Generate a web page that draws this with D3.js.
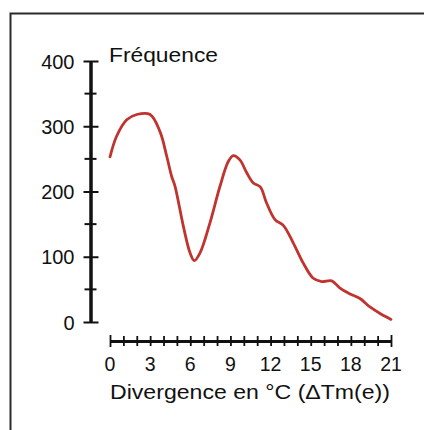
<!DOCTYPE html>
<html>
<head>
<meta charset="utf-8">
<script src="https://cdn.jsdelivr.net/npm/d3@7"></script>
<style>
  body { margin: 0; background: #fff; }
  text { font-family: "Liberation Sans", Arial, sans-serif; fill: #111; }
</style>
</head>
<body>
<svg width="424" height="430"></svg>
<script>
// divergence (°C) and frequency
const divergence = [0, 0.5, 1.25, 2, 3, 3.75, 4.24, 4.61, 4.86, 5.48, 5.98, 6.3, 6.73, 7.47, 8.22, 8.84, 9.22, 9.72,
  10.21, 10.71, 11.23, 11.71, 12.33, 12.95, 13.7, 14.45, 15.19, 15.82, 16.57, 17.19, 17.94, 18.68, 19.43, 20.18, 21];
const frequence = [253, 285, 310, 318, 318, 291, 254, 223, 208, 147, 106, 94, 106, 152, 208, 246, 255, 248,
  229, 213, 207, 182, 157, 148, 121, 90, 67, 62, 63, 52, 43, 36, 23, 13, 4];

const yMajor = [0, 100, 200, 300, 400];
const yMinor = [50, 150, 250, 350];
const xTicks = d3.range(0, 22);
const xLabels = [0, 3, 6, 9, 12, 15, 18, 21];

const svg = d3.select("svg");
const width = +svg.attr("width");

// frame (left and top edges only)
svg.append("path")
  .attr("d", `M10.5,430 L10.5,13.5 L${width},13.5`)
  .attr("fill", "none")
  .attr("stroke", "#2a2a2a")
  .attr("stroke-width", 2);

const x = d3.scaleLinear().domain([0, 21]).range([110, 391]);
const y = d3.scaleLinear().domain([0, 400]).range([322, 61]);

// y axis
const gy = svg.append("g").attr("transform", "translate(90.5,0)");
gy.call(d3.axisLeft(y).tickValues(yMajor).tickSize(0).tickPadding(16));
gy.select(".domain").attr("stroke", "#111").attr("stroke-width", 3.5);
gy.selectAll(".tick text")
  .attr("dy", "0.36em")
  .style("font-size", "20px")
  .style("font-family", "'Liberation Sans', Arial, sans-serif")
  .style("fill", "#111");
gy.selectAll(".tick line").attr("x1", -7).attr("x2", 8).attr("stroke", "#111").attr("stroke-width", 2);

svg.append("g").selectAll("line")
  .data(yMinor)
  .enter()
  .append("line")
    .attr("x1", 84.5).attr("x2", 96.5)
    .attr("y1", (d) => y(d)).attr("y2", (d) => y(d))
    .attr("stroke", "#111").attr("stroke-width", 2);

// x axis
const gx = svg.append("g").attr("transform", "translate(0,341)");
gx.call(d3.axisBottom(x).tickValues(xTicks).tickSize(0).tickFormat(""));
gx.select(".domain").attr("stroke", "#111").attr("stroke-width", 3);
gx.selectAll(".tick line")
  .attr("y1", (d) => (d === 0 || d === 21) ? -6 : -5)
  .attr("y2", (d) => (d === 0 || d === 21) ? 6 : 5)
  .attr("stroke", "#111").attr("stroke-width", 1.8);

svg.append("g").selectAll("text")
  .data(xLabels)
  .enter()
  .append("text")
    .attr("x", (d) => x(d))
    .attr("y", 370.5)
    .attr("text-anchor", "middle")
    .style("font-size", "19.5px")
    .text((d) => d);

// titles
svg.append("text")
  .attr("x", 109).attr("y", 62)
  .style("font-size", "19.5px")
  .attr("textLength", 109)
  .attr("lengthAdjust", "spacingAndGlyphs")
  .text("Fréquence");

svg.append("text")
  .attr("x", 110).attr("y", 398.5)
  .style("font-size", "20.5px")
  .attr("textLength", 280)
  .attr("lengthAdjust", "spacingAndGlyphs")
  .text("Divergence en °C (ΔTm(e))");

// curve
const line = d3.line()
  .x((d, i) => x(divergence[i]))
  .y((d) => y(d))
  .curve(d3.curveCatmullRom.alpha(0.5));

svg.append("path")
  .datum(frequence)
  .attr("d", line)
  .attr("fill", "none")
  .attr("stroke", "#c0332e")
  .attr("stroke-width", 2.8)
  .attr("stroke-linecap", "round");
</script>
</body>
</html>
